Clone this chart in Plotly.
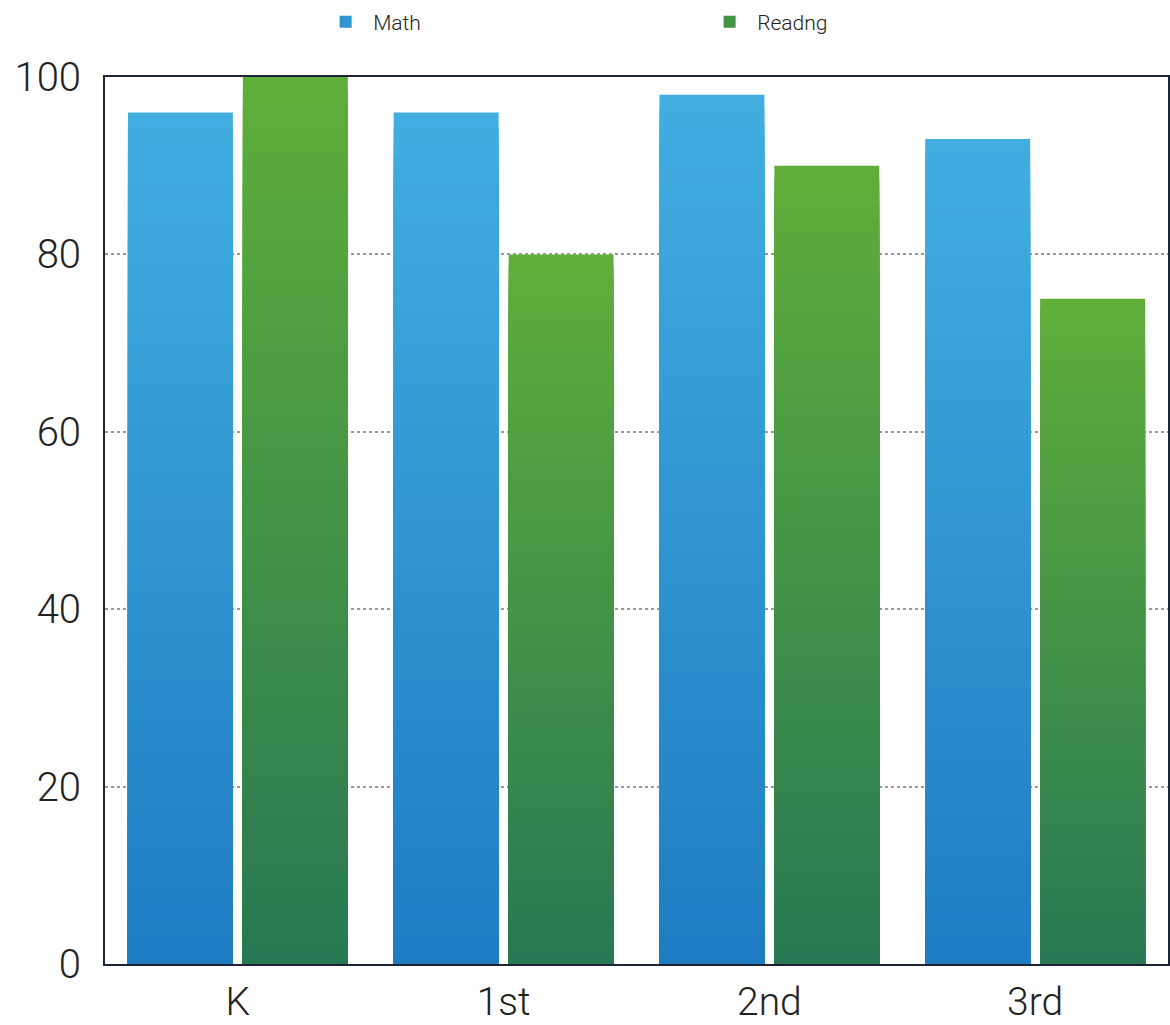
import plotly.graph_objects as go

# Percent of students at or above benchmark, by grade
grades = ["K", "1st", "2nd", "3rd"]
math_scores = [96, 96, 98, 93]
reading_scores = [100, 80, 90, 75]

y_ticks = [0, 20, 40, 60, 80, 100]

# Vertical gradient stops (top colour, bottom colour) for each series
math_top, math_bottom = (66, 174, 224), (30, 124, 194)
read_top, read_bottom = (96, 174, 58), (40, 120, 84)

SLICES = 60


def mix(c1, c2, t):
    return "rgb({},{},{})".format(*[round(a + (b - a) * t) for a, b in zip(c1, c2)])


fig = go.Figure()


def add_gradient_bars(name, values, top, bottom, group):
    # Nested bars from the axis up: the tallest (lightest) one is drawn first,
    # each shorter, darker bar is laid over its lower part, giving a seamless fade.
    for j in range(SLICES - 1, -1, -1):
        t = 1 - (j + 0.5) / SLICES
        fig.add_trace(go.Bar(
            x=grades,
            y=[v * (j + 1) / SLICES for v in values],
            name=name,
            offsetgroup=group,
            legendgroup=group,
            showlegend=(j == SLICES // 2),
            marker=dict(color=mix(top, bottom, t), line=dict(width=0)),
            hoverinfo="skip",
        ))


add_gradient_bars("Math", math_scores, math_top, math_bottom, "math")
add_gradient_bars("Readng", reading_scores, read_top, read_bottom, "reading")

axis_line = "#1b2535"
font_family = "Roboto, 'Liberation Sans', sans-serif"

fig.update_layout(
    width=1170,
    height=1025,
    margin=dict(l=105, r=2, t=77, b=61, autoexpand=False),
    paper_bgcolor="white",
    plot_bgcolor="white",
    barmode="group",
    bargap=0.135,
    bargroupgap=0.087,
    font=dict(family=font_family, color="#222222"),
    legend=dict(
        orientation="h",
        x=0.2005,
        xanchor="left",
        y=1.062,
        yanchor="middle",
        itemwidth=45,
        entrywidth=324,
        entrywidthmode="pixels",
        font=dict(size=21, family=font_family, weight=300, color="#222222"),
        traceorder="normal",
    ),
    xaxis=dict(
        showline=True,
        mirror=True,
        linecolor=axis_line,
        linewidth=2,
        showgrid=False,
        ticks="",
        ticklabelstandoff=2,
        tickfont=dict(size=39, family=font_family, weight=300, color="#222222"),
    ),
    yaxis=dict(
        range=[0, 100],
        tickvals=y_ticks,
        showline=True,
        mirror=True,
        linecolor=axis_line,
        linewidth=2,
        showgrid=True,
        gridcolor="#9a9a9a",
        griddash="dot",
        gridwidth=1.5,
        zeroline=False,
        ticks="",
        ticklabelstandoff=14,
        tickfont=dict(size=40, family=font_family, weight=300, color="#222222"),
    ),
)

fig.write_html("out.html")
